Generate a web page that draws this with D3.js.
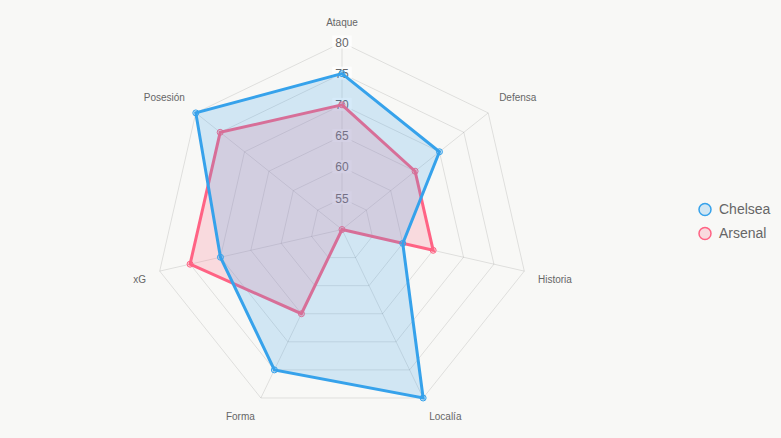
<!DOCTYPE html>
<html>
<head>
<meta charset="utf-8">
<script src="https://cdn.jsdelivr.net/npm/d3@7"></script>
<style>
  html, body { margin: 0; padding: 0; background: #f8f8f6; }
  svg { display: block; font-family: "Liberation Sans", Arial, Helvetica, sans-serif; }
</style>
</head>
<body>
<svg id="chart" width="781" height="438"></svg>
<script>
'use strict';

// axes, clockwise from the top
var labels = ['Ataque', 'Defensa', 'Historia', 'Localía', 'Forma', 'xG', 'Posesión'];
var chelsea = [75, 70, 60, 80, 75, 70, 80];
var arsenal = [70, 65, 65, 50, 65, 75, 75];
var tickValues = [55, 60, 65, 70, 75, 80];

var series = [
	{name: 'Chelsea', values: chelsea, stroke: '#36a2eb', fill: 'rgba(54,162,235,0.2)'},
	{name: 'Arsenal', values: arsenal, stroke: '#ff6384', fill: 'rgba(255,99,132,0.2)'}
];

var cx = 342, cy = 229.5, radius = 187;
var svg = d3.select('#chart');
var g = svg.append('g').attr('transform', 'translate(' + cx + ',' + cy + ')');

var r = d3.scaleLinear().domain([50, 80]).range([0, radius]);
var angle = d3.scalePoint().domain(d3.range(labels.length)).range([0, 2 * Math.PI * (labels.length - 1) / labels.length]);

function pos(i, dist) {
	var a = angle(i);
	return [Math.sin(a) * dist, -Math.cos(a) * dist];
}

// grid polygons
tickValues.forEach(function (v) {
	g.append('polygon')
	.attr('points', labels.map(function (d, i) { return pos(i, r(v)).join(','); }).join(' '))
	.attr('fill', 'none').attr('stroke', 'rgba(0,0,0,0.1)').attr('stroke-width', 1);
});

// angle lines
labels.forEach(function (d, i) {
	var p = pos(i, radius);
	g.append('line').attr('x1', 0).attr('y1', 0).attr('x2', p[0]).attr('y2', p[1])
	.attr('stroke', 'rgba(0,0,0,0.1)').attr('stroke-width', 1);
});

// point labels
labels.forEach(function (d, i) {
	var p = pos(i, radius + 14);
	var deg = angle(i) * 180 / Math.PI;
	var anchor = (deg === 0 || deg === 180) ? 'middle' : (deg < 180 ? 'start' : 'end');
	var y = (deg > 270 || deg < 90) ? p[1] - 3 : p[1] + 9;
	g.append('text').attr('x', p[0]).attr('y', y)
	.attr('text-anchor', anchor).attr('font-size', 10).attr('fill', '#666').text(d);
});

// tick labels with backdrop
tickValues.forEach(function (v) {
	var t = g.append('g').attr('transform', 'translate(0,' + (-r(v)) + ')');
	var txt = t.append('text').attr('text-anchor', 'middle').attr('dy', '0.35em')
	.attr('font-size', 12).attr('fill', '#666').text(v);
	var w = txt.node().getComputedTextLength();
	t.insert('rect', 'text').attr('x', -w / 2 - 3).attr('y', -7).attr('width', w + 6).attr('height', 13)
	.attr('fill', 'rgba(255,255,255,0.75)');
});

var line = d3.lineRadial()
	.angle(function (d, i) { return angle(i); })
	.radius(function (d) { return r(d); })
	.curve(d3.curveLinearClosed);

// last dataset drawn first
series.slice().reverse().forEach(function (s) {
	g.append('path').attr('d', line(s.values))
	.attr('fill', s.fill).attr('stroke', s.stroke).attr('stroke-width', 3)
	.attr('stroke-linejoin', 'miter');
	g.selectAll(null).data(s.values).enter().append('circle')
	.attr('cx', function (d, i) { return pos(i, r(d))[0]; })
	.attr('cy', function (d, i) { return pos(i, r(d))[1]; })
	.attr('r', 3).attr('fill', s.fill).attr('stroke', s.stroke).attr('stroke-width', 1);
});

// legend
var legend = svg.append('g').attr('transform', 'translate(705,209.5)');
series.forEach(function (s, i) {
	var row = legend.append('g').attr('transform', 'translate(0,' + (i * 24) + ')');
	row.append('circle').attr('r', 6).attr('fill', s.fill).attr('stroke', s.stroke).attr('stroke-width', 1.5);
	row.append('text').attr('x', 14).attr('dy', '0.35em').attr('font-size', 14).attr('fill', '#666').text(s.name);
});
</script>
</body>
</html>
